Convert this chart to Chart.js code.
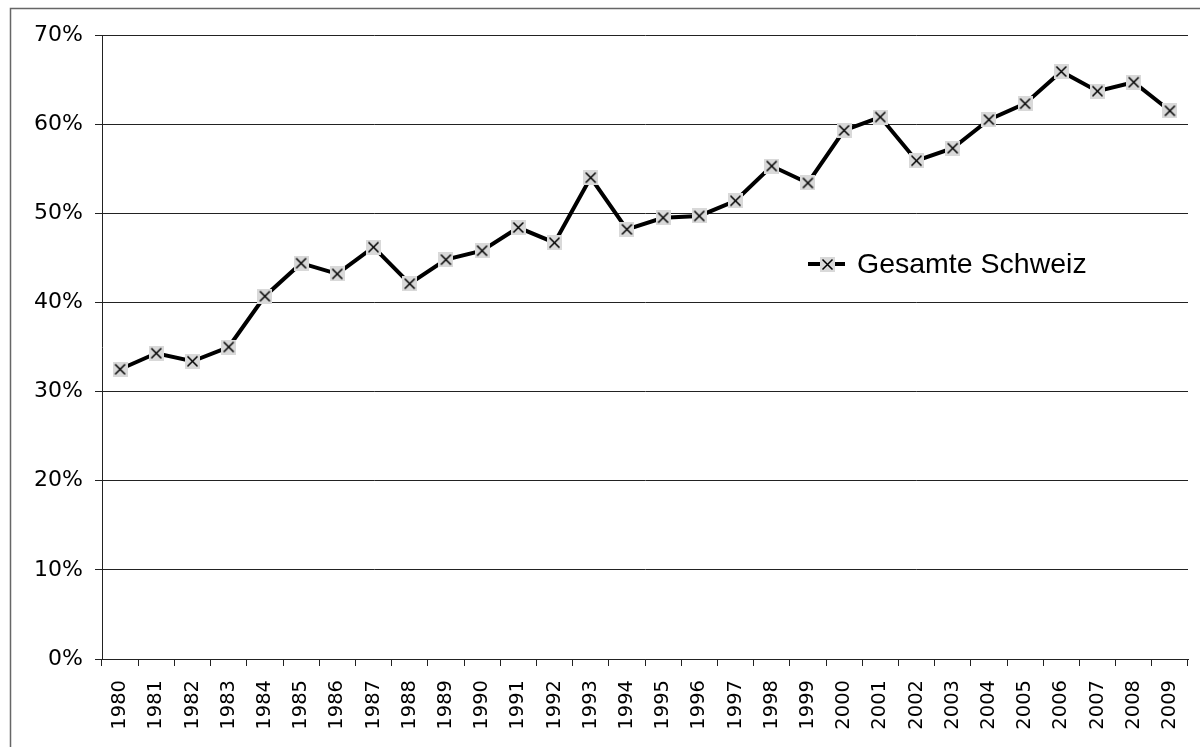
<!DOCTYPE html>
<html>
<head>
<meta charset="utf-8">
<script src="https://cdn.jsdelivr.net/npm/chart.js@4/dist/chart.umd.min.js"></script>
<style>
  html, body { margin: 0; padding: 0; background: #fff; }
  #wrap { width: 1200px; height: 747px; position: relative; }
</style>
</head>
<body>
<div id="wrap"><canvas id="chart"></canvas></div>
<script>
// Chart data
const years = ['1980','1981','1982','1983','1984','1985','1986','1987','1988','1989',
               '1990','1991','1992','1993','1994','1995','1996','1997','1998','1999',
               '2000','2001','2002','2003','2004','2005','2006','2007','2008','2009'];
const shareSchweiz = [32.5, 34.3, 33.4, 35.0, 40.7, 44.4, 43.2, 46.2, 42.1, 44.8,
                      45.8, 48.4, 46.7, 54.0, 48.2, 49.5, 49.7, 51.4, 55.3, 53.4,
                      59.3, 60.8, 55.9, 57.3, 60.5, 62.3, 65.9, 63.7, 64.7, 61.5];
const seriesLabel = 'Gesamte Schweiz';
const yTicks = [0, 10, 20, 30, 40, 50, 60, 70];

// marker: grey square with a black x
function makeMarker(size) {
    const c = document.createElement('canvas');
    c.width = size; c.height = size;
    const g = c.getContext('2d');
    g.fillStyle = '#d9d9d9';
    g.fillRect(0, 0, size, size);
    g.strokeStyle = '#000';
    g.lineWidth = 1.5;
    const m = 2.5;
    g.beginPath();
    g.moveTo(m, m); g.lineTo(size - m, size - m);
    g.moveTo(size - m, m); g.lineTo(m, size - m);
    g.stroke();
    return c;
}
const marker = makeMarker(15);

// outer frame + legend inside the plot
const framePlugin = {
    id: 'frame',
    beforeDraw(chart) {
        const ctx = chart.ctx;
        ctx.save();
        ctx.strokeStyle = '#666';
        ctx.lineWidth = 1.5;
        ctx.beginPath();
        ctx.moveTo(10.5, 760);
        ctx.lineTo(10.5, 8.5);
        ctx.lineTo(1210, 8.5);
        ctx.stroke();
        ctx.restore();
    },
    afterDraw(chart) {
        const ctx = chart.ctx;
        const x = 808, y = 264;
        ctx.save();
        ctx.strokeStyle = '#000';
        ctx.lineWidth = 4;
        ctx.beginPath();
        ctx.moveTo(x, y); ctx.lineTo(x + 37, y);
        ctx.stroke();
        ctx.drawImage(marker, x + 12, y - 7, 15, 15);
        ctx.fillStyle = '#000';
        ctx.font = '28.5px "Liberation Sans", Arial, sans-serif';
        ctx.textBaseline = 'middle';
        ctx.fillText(chart.data.datasets[0].label, x + 49, y + 1);
        ctx.restore();
    }
};

const ctx = document.getElementById('chart').getContext('2d');
new Chart(ctx, {
    type: 'line',
    data: {
        labels: years,
        datasets: [{
            label: seriesLabel,
            data: shareSchweiz,
            borderColor: '#000',
            borderWidth: 4,
            tension: 0,
            pointStyle: marker,
            pointRadius: 7,
            pointHoverRadius: 7
        }]
    },
    options: {
        responsive: true,
        maintainAspectRatio: false,
        animation: false,
        layout: { padding: { left: 0, right: 12, top: 35, bottom: 0 } },
        plugins: {
            legend: { display: false },
            tooltip: { enabled: false }
        },
        scales: {
            x: {
                offset: true,
                grid: {
                    offset: true,
                    drawOnChartArea: false,
                    drawTicks: true,
                    tickLength: 7,
                    color: '#222'
                },
                border: { color: '#222', width: 1 },
                ticks: {
                    minRotation: 90,
                    maxRotation: 90,
                    autoSkip: false,
                    padding: 14,
                    color: '#000',
                    font: { family: '"DejaVu Sans", sans-serif', size: 19.5 }
                },
                afterFit(scale) {
                    scale.height = 88;
                    scale.paddingLeft = 0;
                    scale.paddingRight = 0;
                }
            },
            y: {
                min: 0,
                max: 70,
                afterBuildTicks(scale) { scale.ticks = yTicks.map(v => ({ value: v })); },
                grid: {
                    color: '#222',
                    lineWidth: 1,
                    tickLength: 7
                },
                border: { color: '#222', width: 1 },
                ticks: {
                    padding: 12,
                    color: '#000',
                    font: { family: '"DejaVu Sans", sans-serif', size: 22 },
                    callback: v => v + '%'
                },
                afterFit(scale) {
                    scale.width = 102;
                    scale.paddingTop = 0;
                    scale.paddingBottom = 0;
                }
            }
        }
    },
    plugins: [framePlugin]
});
</script>
</body>
</html>
